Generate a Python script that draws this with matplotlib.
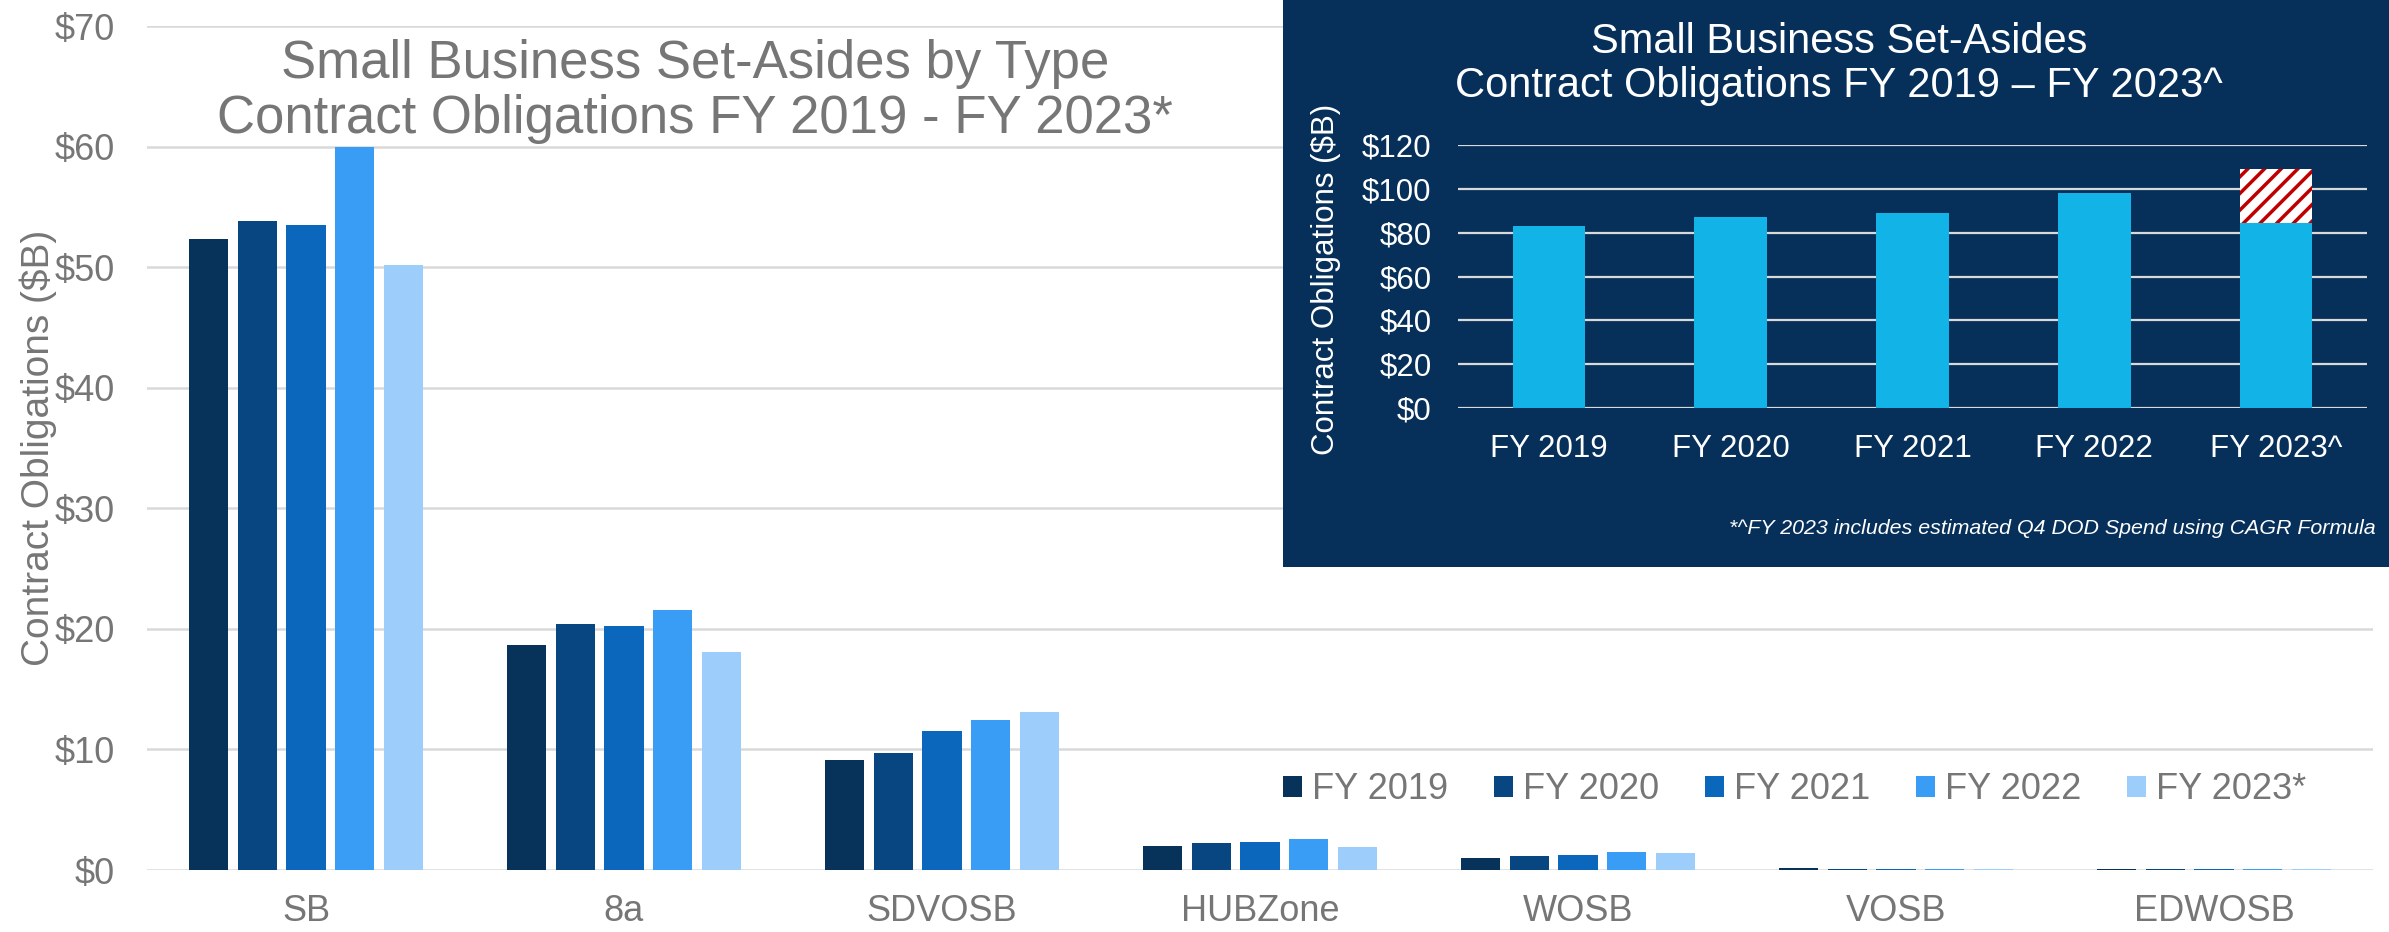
import numpy as np
import matplotlib
matplotlib.use("Agg")
import matplotlib.pyplot as plt

plt.rcParams['font.family'] = ['Liberation Sans', 'DejaVu Sans']
plt.rcParams['hatch.linewidth'] = 2.5

# main chart data ($B)
categories = ['SB', '8a', 'SDVOSB', 'HUBZone', 'WOSB', 'VOSB', 'EDWOSB']
fy2019 = [52.3, 18.7, 9.1, 2.0, 1.0, 0.17, 0.11]
fy2020 = [53.8, 20.4, 9.7, 2.2, 1.2, 0.11, 0.08]
fy2021 = [53.5, 20.2, 11.5, 2.35, 1.28, 0.11, 0.05]
fy2022 = [60.0, 21.6, 12.4, 2.53, 1.47, 0.11, 0.05]
fy2023 = [50.2, 18.1, 13.1, 1.92, 1.42, 0.08, 0.05]
series_names = ['FY 2019', 'FY 2020', 'FY 2021', 'FY 2022', 'FY 2023*']
series_colors = ['#07325A', '#074681', '#0B67BC', '#3A9DF5', '#9DCEFB']

# inset data ($B)
years = ['FY 2019', 'FY 2020', 'FY 2021', 'FY 2022', 'FY 2023^']
totals = [83.2, 87.3, 89.0, 98.3, 84.5]
estimated_q4 = [0, 0, 0, 0, 24.7]

gray = '#767676'
grid_color = '#D9D9D9'
navy = '#06305A'

fig = plt.figure(figsize=(23.89, 9.32), dpi=100)

# ---- main grouped bar chart ----
ax = fig.add_axes([0.06153, 0.06652, 0.93177, 0.90558])
x = np.arange(len(categories))
step = 0.153
width = 0.123
all_series = [fy2019, fy2020, fy2021, fy2022, fy2023]
for i, (vals, name, col) in enumerate(zip(all_series, series_names, series_colors)):
    ax.bar(x + (i - 2) * step, vals, width, color=col, label=name, zorder=3)

ax.set_xlim(-0.5, len(categories) - 0.5)
ax.set_ylim(0, 70)
ax.set_yticks(np.arange(0, 71, 10))
ax.set_yticklabels([f'${v}' for v in range(0, 71, 10)])
ax.set_xticks(x)
ax.set_xticklabels(categories)
ax.tick_params(axis='both', length=0, labelsize=26, labelcolor=gray)
ax.tick_params(axis='y', pad=23)
ax.tick_params(axis='x', pad=17)
ax.grid(axis='y', color=grid_color, linewidth=1.8, zorder=0)
for s in ax.spines.values():
    s.set_visible(False)
ax.set_ylabel('Contract Obligations ($B)', fontsize=28, color=gray)
ax.yaxis.set_label_coords(-0.0405, 0.5)

fig.text(0.2909, 0.9017, 'Small Business Set-Asides by Type\nContract Obligations FY 2019 - FY 2023*',
         ha='center', va='center', fontsize=38, color=gray, linespacing=1.12)

leg = ax.legend(loc='center left', bbox_to_anchor=(1265 / 2389, 0.1525), bbox_transform=fig.transFigure,
                ncol=5, frameon=False, fontsize=26, handlelength=0.53, handleheight=0.53,
                handletextpad=0.28, columnspacing=1.26, borderpad=0, labelcolor=gray)

# ---- inset panel ----
bg = fig.add_axes([0.53705, 0.39163, 0.46295, 0.60837])
bg.set_facecolor(navy)
bg.set_xticks([])
bg.set_yticks([])
for s in bg.spines.values():
    s.set_visible(False)

ins = fig.add_axes([0.6103, 0.56223, 0.3805, 0.28219])
ins.patch.set_alpha(0)
xi = np.arange(len(years))
ins.bar(xi, totals, 0.40, color='#12B4E8', zorder=3)
ins.bar(xi, estimated_q4, 0.40, bottom=totals, facecolor='white', edgecolor='#C00000',
        hatch='//', linewidth=0, zorder=3)
ins.set_xlim(-0.5, 4.5)
ins.set_ylim(0, 120)
ins.set_yticks(np.arange(0, 121, 20))
ins.set_yticklabels([f'${v}' for v in range(0, 121, 20)])
ins.set_xticks(xi)
ins.set_xticklabels(years)
ins.tick_params(axis='both', length=0, labelsize=22.5, labelcolor='white')
ins.tick_params(axis='y', pad=19)
ins.tick_params(axis='x', pad=18.5)
ins.grid(axis='y', color=grid_color, linewidth=1.6, zorder=0)
for s in ins.spines.values():
    s.set_visible(False)

fig.text(1326 / 2389, 1 - 279 / 932, 'Contract Obligations ($B)', rotation=90,
         ha='center', va='center', fontsize=22.5, color='white')
fig.text(1839 / 2389, 1 - 64 / 932, 'Small Business Set-Asides\nContract Obligations FY 2019 \u2013 FY 2023^',
         ha='center', va='center', fontsize=30, color='white', linespacing=1.15)
fig.text(2376 / 2389, 1 - 528 / 932, '*^FY 2023 includes estimated Q4 DOD Spend using CAGR Formula',
         ha='right', va='center', fontsize=15.4, color='white', style='italic')

fig.savefig('out.png', dpi=100)
